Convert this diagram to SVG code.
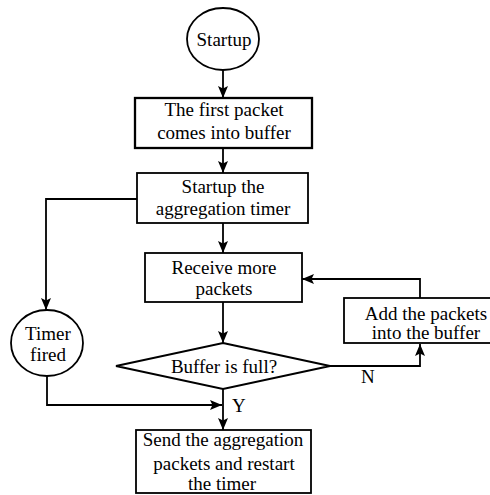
<svg xmlns="http://www.w3.org/2000/svg" width="490" height="495" viewBox="0 0 490 495">
  <style>
    .shape { fill: #ffffff; stroke: #000000; stroke-width: 1.8; }
    .bold { stroke-width: 2.3; }
    .label { font-family: "Liberation Serif", "Times New Roman", serif; font-size: 19px; fill: #000000; text-anchor: middle; }
    .tag { font-family: "Liberation Serif", "Times New Roman", serif; font-size: 19px; fill: #000000; }
    .edge { fill: none; stroke: #000000; stroke-width: 1.8; }
  </style>
  <defs>
    <marker id="arrow" markerUnits="userSpaceOnUse" markerWidth="13" markerHeight="11" refX="12" refY="5.5" orient="auto">
      <path d="M0,0.5 L12,5.5 L0,10.5 L2.5,5.5 z" fill="#000000"/>
    </marker>
  </defs>

  <rect width="490" height="495" fill="#ffffff"/>

  <!-- connectors -->
  <g id="connectors">
    <line class="edge" x1="223" y1="70" x2="223" y2="98" marker-end="url(#arrow)"/>
    <line class="edge" x1="223" y1="148" x2="223" y2="173" marker-end="url(#arrow)"/>
    <line class="edge" x1="223" y1="223" x2="223" y2="253" marker-end="url(#arrow)"/>
    <polyline class="edge" points="137,199 46,199 46,310" marker-end="url(#arrow)"/>
    <line class="edge" x1="223" y1="302" x2="223" y2="343" marker-end="url(#arrow)"/>
    <polyline class="edge" points="330,366 420,366 420,344" marker-end="url(#arrow)"/>
    <polyline class="edge" points="420,298 420,279 302,279" marker-end="url(#arrow)"/>
    <polyline class="edge" points="47,376 47,405 222,405" marker-end="url(#arrow)"/>
    <line class="edge" x1="223" y1="389" x2="223" y2="430" marker-end="url(#arrow)"/>
    <text class="tag" x="361" y="383">N</text>
    <text class="tag" x="232" y="412">Y</text>
  </g>

  <g id="startup">
    <ellipse class="shape" cx="223" cy="39" rx="36" ry="31"/>
    <text class="label" x="224" y="46">Startup</text>
  </g>

  <g id="first-packet">
    <rect class="shape bold" x="135" y="98" width="177" height="50"/>
    <text class="label" x="224" y="116">The first packet</text>
    <text class="label" x="224" y="139">comes into buffer</text>
  </g>

  <g id="start-timer">
    <rect class="shape" x="137" y="173" width="171" height="50"/>
    <text class="label" x="223" y="193">Startup the</text>
    <text class="label" x="223" y="215">aggregation timer</text>
  </g>

  <g id="timer-fired">
    <ellipse class="shape" cx="47" cy="343" rx="36" ry="33"/>
    <text class="label" x="48" y="340">Timer</text>
    <text class="label" x="48" y="361">fired</text>
  </g>

  <g id="receive">
    <rect class="shape" x="145" y="253" width="157" height="49"/>
    <text class="label" x="224" y="274">Receive more</text>
    <text class="label" x="224" y="295">packets</text>
  </g>

  <g id="buffer-full">
    <polygon class="shape" points="223,343 330,366 223,389 116,366"/>
    <text class="label" x="224" y="373">Buffer is full?</text>
  </g>

  <g id="add-packets">
    <rect class="shape" x="344" y="298" width="150" height="45"/>
    <text class="label" x="426" y="320">Add the packets</text>
    <text class="label" x="426" y="339">into the buffer</text>
  </g>

  <g id="send">
    <rect class="shape" x="136" y="430" width="175" height="63"/>
    <text class="label" x="223" y="446">Send the aggregation</text>
    <text class="label" x="224" y="470">packets and restart</text>
    <text class="label" x="222" y="490">the timer</text>
  </g>
</svg>
